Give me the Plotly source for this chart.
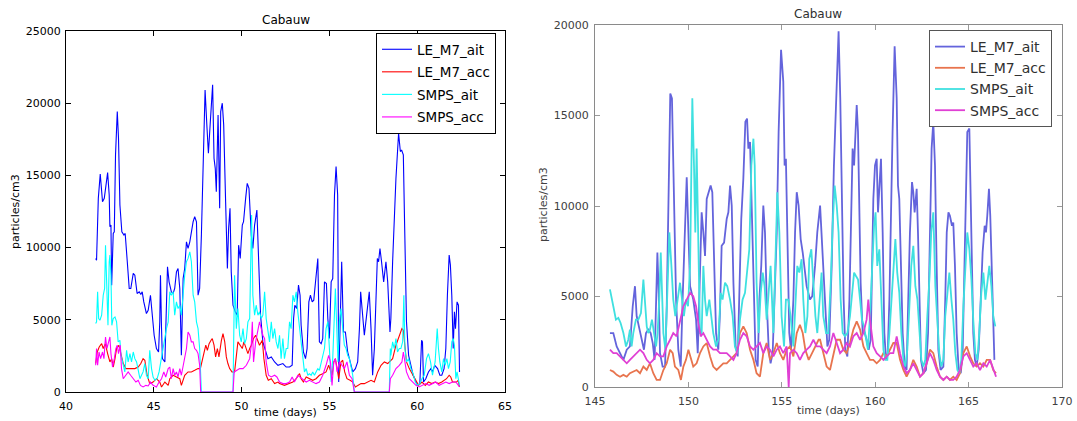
import plotly.graph_objects as go

# ---------------- data: left panel (days, particles/cm3) ----------------
L_M7_AIT = [(41.69,9250),(41.74,9130),(41.84,13410),(41.95,15100),(42.08,13180),(42.18,13410),(42.37,15190),(42.46,13640),(42.50,11440),(42.56,11560),(42.60,7400),(42.69,10980),(42.75,11100),(42.82,16420),(42.92,19420),(42.99,17570),(43.07,12950),(43.18,11100),(43.30,10870),(43.37,10980),(43.49,9020),(43.60,7170),(43.69,7170),(43.83,8210),(43.92,8090),(44.05,6820),(44.17,6940),(44.26,6750),(44.34,6940),(44.43,6240),(44.58,5430),(44.68,5660),(44.81,6700),(44.93,5320),(45.02,3930),(45.15,3010),(45.27,2770),(45.34,4860),(45.38,8090),(45.44,4390),(45.49,2310),(45.63,2080),(45.72,5550),(45.78,8670),(45.87,7630),
            (46.00,6940),(46.10,6820),(46.19,7170),(46.29,8320),(46.38,8550),(46.48,7170),(46.57,2540),(46.67,7860),(46.76,8550),(46.86,10400),(46.95,9940),(47.05,10400),(47.14,11100),(47.24,11790),(47.33,12140),(47.43,11790),(47.52,6700),(47.61,7170),(47.71,10870),(47.80,15260),(47.92,20920),(48.03,18260),(48.11,16530),(48.22,18730),(48.35,21270),(48.43,16180),(48.50,15490),(48.56,13870),(48.66,19190),(48.75,12720),(48.81,19420),(48.90,20000),(48.98,18500),(49.09,13180),(49.19,8550),(49.26,11330),(49.34,12720),(49.41,8320),(49.51,6010),(49.64,5550),(49.75,5320),(49.83,10170),(49.92,9250),(50.04,11560),(50.11,11790),(50.23,13410),(50.32,14450),(50.42,14100),(50.55,10870),(50.64,9940),(50.74,11560),(50.87,12600),(50.97,9020),(51.08,5320),(51.21,3470),(51.31,3010),(51.50,2310),(51.69,2430),(51.88,2080),(52.07,1850),
            (52.35,1970),(52.54,1730),(52.73,1730),(52.88,1850),(52.96,5090),(53.03,6010),(53.14,5780),(53.24,7400),(53.33,6700),(53.39,4620),(53.52,2770),(53.64,2310),(53.73,3010),(53.83,6240),(53.92,6700),(54.02,6240),(54.11,6360),(54.21,7630),(54.34,9250),(54.43,3470),(54.53,3350),(54.62,3700),(54.72,7630),(54.83,7510),(54.91,5090),(55.00,3700),(55.10,7630),(55.19,7860),(55.29,13640),(55.38,15610),(55.47,13640),(55.53,690),(55.63,5780),(55.70,9020),(55.80,4160),(55.91,4160),(56.04,2770),(56.18,2080),(56.33,1390),(56.48,1620),(56.61,2080),(56.71,4390),(56.78,6940),(56.86,5780),(56.99,3930),(57.12,5320),(57.27,6940),(57.37,4390),(57.46,1160),(57.56,3010),(57.65,6240),(57.73,9250),(57.80,9020),(57.88,9940),(57.97,9020),(58.09,7630),(58.22,9020),(58.32,7630),(58.45,4160),
            (58.50,5090),(58.60,9020),(58.69,12250),(58.79,14800),(58.94,17920),(59.04,16650),(59.11,16760),(59.21,16420),(59.28,11790),(59.39,4860),(59.51,2540),(59.64,1850),(59.77,1160),(59.89,810),(60.02,460),(60.15,580),(60.25,3580),(60.30,3470),(60.36,690),(60.49,920),(60.64,1390),(60.78,1620),(60.87,1390),(61.00,1850),(61.16,1620),(61.29,1160),(61.40,1160),(61.53,1620),(61.63,3010),(61.72,6700),(61.82,9480),(61.89,8790),(61.97,6700),(62.05,3010),(62.12,5550),(62.18,4390),(62.27,6240),(62.35,6010),(62.41,1390)]

L_M7_ACC = [(41.69,1970),(41.78,2770),(41.89,3120),(42.03,3350),(42.12,3010),(42.24,3350),(42.37,2660),(42.50,2080),(42.60,2310),(42.69,1730),(42.79,2310),(42.88,3010),(43.01,3240),(43.13,2660),(43.26,1970),(43.41,1620),(43.54,1620),(43.73,1620),(43.92,1620),(44.11,1730),(44.26,1970),(44.39,2310),(44.49,2200),(44.62,1160),(44.77,580),(44.96,690),(45.15,920),(45.34,690),(45.44,350),(45.63,690),(45.82,460),
            (45.91,920),(46.10,1160),(46.29,1040),(46.48,920),(46.57,460),(46.76,1160),(46.95,1390),(47.14,1390),(47.33,1500),(47.52,1620),(47.65,1620),(47.75,2200),(47.84,2540),(47.96,3240),(48.05,2890),(48.15,3350),(48.26,3580),(48.33,3700),(48.43,3240),(48.52,2430),(48.62,3010),(48.71,2430),(48.85,3580),(48.94,4050),(49.04,3470),(49.13,2430),(49.22,1970),(49.32,1620),(49.45,1390),(49.60,1390),(49.79,3470),(49.93,3240),(50.04,3010),(50.13,3470),(50.23,3120),(50.36,2660),(50.46,3010),(50.55,3240),(50.68,3700),(50.80,3930),(50.91,3580),(51.02,3240),(51.18,3580),(51.27,2310),(51.40,1160),(51.52,810),(51.69,920),(51.88,580),(52.07,690),
            (52.16,580),(52.44,460),(52.73,580),(52.92,690),(53.11,920),(53.30,1270),(53.39,920),(53.52,690),(53.68,1040),(53.86,920),(54.05,810),(54.24,920),(54.43,1160),(54.62,1270),(54.81,1390),(54.96,1850),(55.06,1390),(55.15,1160),(55.25,2080),(55.34,2310),(55.44,1620),(55.53,920),(55.66,2080),(55.76,2200),(55.87,1390),(56.00,920),(56.18,810),(56.33,690),(56.48,350),(56.61,460),(56.80,580),(56.99,580),(57.18,690),(57.37,810),(57.56,690),(57.75,1390),(57.94,1850),(58.13,2080),(58.32,1970),
            (58.41,2080),(58.60,2310),(58.79,3240),(58.98,3930),(59.13,4390),(59.21,4280),(59.28,3240),(59.39,2080),(59.55,1620),(59.70,1270),(59.89,810),(60.08,460),(60.27,690),(60.46,460),(60.64,690),(60.83,580),(61.02,690),(61.21,580),(61.40,690),(61.53,810),(61.67,920),(61.82,1160),(61.91,1040),(62.01,690),(62.12,690),(62.24,690),(62.33,810),(62.41,350)]

L_SMPS_AIT = [(41.69,4740),(41.74,4860),(41.80,6940),(41.86,5090),(41.93,4970),(42.03,5320),(42.12,6700),(42.20,7170),(42.25,10170),(42.33,7630),(42.39,4620),(42.46,9020),(42.50,9480),(42.56,8090),(42.61,4620),(42.69,5090),(42.79,5200),(42.88,4860),(42.97,3470),(43.07,3580),(43.13,2540),(43.22,2080),(43.35,1390),(43.45,2890),(43.54,2080),(43.64,2660),(43.73,2080),(43.83,2770),(43.92,2310),(44.02,2080),(44.11,1390),(44.21,920),(44.30,1160),(44.39,1390),(44.49,1970),(44.58,1160),(44.68,920),(44.77,2890),(44.87,1620),(44.96,1040),(45.06,810),(45.19,920),(45.30,1390),(45.40,2080),(45.49,2770),(45.57,3240),(45.64,3930),(45.72,4390),(45.82,4860),
              (45.91,6940),(46.00,6700),(46.10,6940),(46.19,5320),(46.29,6240),(46.38,5780),(46.48,6010),(46.57,5320),(46.67,7170),(46.76,8090),(46.86,9020),(46.95,9250),(47.05,9710),(47.14,9020),(47.24,6700),(47.33,6240),(47.43,4860),(47.52,4390),(47.61,3010),(47.71,0),(49.51,0),(49.60,8090),(49.70,4390),(49.79,5780),(49.89,3930),(49.98,3470),(50.08,4390),(50.17,3350),(50.27,3700),(50.36,4860),(50.46,5090),(50.57,12250),(50.64,6700),(50.74,5320),(50.83,6010),(50.93,5320),(51.02,5550),(51.12,5090),(51.21,5320),(51.31,6940),(51.40,5090),(51.50,4390),(51.59,3470),(51.69,4860),(51.78,3700),(51.88,4390),(51.97,3470),(52.07,3010),
              (52.16,3930),(52.25,2310),(52.35,3700),(52.44,2310),(52.54,3010),(52.63,3010),(52.73,4860),(52.82,4390),(52.92,6700),(53.01,6240),(53.11,6940),(53.20,5550),(53.30,4390),(53.39,3240),(53.49,2310),(53.58,1390),(53.68,1620),(53.77,1160),(53.86,1270),(53.96,1160),(54.05,1390),(54.15,1160),(54.24,1390),(54.34,1620),(54.43,1500),(54.53,2080),(54.62,2540),(54.72,3010),(54.81,4390),(54.91,4860),(55.00,3010),(55.10,690),(55.19,2310),(55.29,4860),(55.34,7170),(55.42,4390),(55.49,2080),(55.57,4860),(55.66,5780),(55.76,4390),(55.85,3240),(55.95,3010),(56.04,2540),(56.14,2310),(56.23,1620),(56.33,1160),(56.42,0),(58.41,0),(58.47,3010),
              (58.50,2540),(58.60,3470),(58.69,3010),(58.79,3700),(58.88,2770),(58.98,3010),(59.07,3010),(59.17,3470),(59.24,6700),(59.30,3010),(59.39,2080),(59.51,2310),(59.64,1620),(59.77,1270),(59.89,690),(60.02,460),(60.15,580),(60.27,920),(60.40,1160),(60.53,2310),(60.64,2660),(60.76,2080),(60.87,1160),(61.02,2080),(61.14,4390),(61.21,3010),(61.29,2080),(61.40,1390),(61.50,2310),(61.59,1850),(61.69,2310),(61.78,1620),(61.88,2080),(61.97,3470),(62.05,3700),(62.12,3240),(62.20,920),(62.27,1390),(62.35,690),(62.41,460)]

L_SMPS_ACC = [(41.69,1850),(41.74,3010),(41.80,1850),(41.88,2770),(41.97,2310),(42.08,2770),(42.16,2310),(42.25,3810),(42.33,3010),(42.41,3350),(42.50,3810),(42.56,2660),(42.65,1730),(42.75,2310),(42.84,3010),(42.92,3240),(42.99,2660),(43.09,3240),(43.16,1620),(43.26,920),(43.41,1160),(43.54,1390),(43.68,1160),(43.83,920),(43.98,690),(44.11,810),(44.24,460),(44.39,350),(44.55,460),(44.68,420),(44.81,690),(44.96,460),(45.15,350),(45.30,690),(45.44,920),(45.57,1390),(45.68,1040),(45.82,1620),
              (45.91,1730),(46.00,920),(46.10,1620),(46.19,1160),(46.29,1390),(46.38,1040),(46.48,1620),(46.57,1160),(46.67,1850),(46.76,2310),(46.86,3010),(46.95,4160),(47.05,3930),(47.14,3470),(47.24,3470),(47.33,3010),(47.43,2890),(47.52,2660),(47.61,1850),(47.67,0),(49.51,0),(49.58,1390),(49.70,1500),(49.89,1620),(50.08,1620),(50.27,1850),(50.46,2310),(50.55,3240),(50.61,4860),(50.68,2080),(50.80,3470),(50.93,4390),(51.02,4860),(51.12,4390),(51.21,3930),(51.31,3700),(51.40,2080),(51.53,1160),(51.69,1040),(51.88,1160),(52.01,1040),(52.16,690),
              (52.35,580),(52.54,580),(52.73,690),(52.88,1040),(53.01,690),(53.20,1160),(53.33,1040),(53.49,920),(53.68,690),(53.86,810),(54.05,690),(54.24,580),(54.43,690),(54.62,1160),(54.81,1850),(54.96,2540),(55.06,2080),(55.15,460),(55.25,2080),(55.34,2310),(55.44,1390),(55.57,2080),(55.72,1850),(55.85,1620),(56.00,2080),(56.14,1160),(56.29,920),(56.42,0),(58.41,0),(58.47,920),(58.60,1160),
              (58.79,1620),(58.98,1850),(59.13,2080),(59.21,2770),(59.28,2080),(59.39,1390),(59.55,920),(59.74,690),(59.93,460),(60.11,350),(60.30,460),(60.49,580),(60.68,460),(60.87,580),(61.06,690),(61.25,460),(61.44,580),(61.63,690),(61.82,580),(62.01,690),(62.20,690),(62.41,350)]

# ---------------- data: right panel ----------------
R_M7_AIT = [(145.80,2980),(145.98,2980),(146.16,2240),(146.34,1870),(146.52,1500),(146.70,2060),(146.87,2240),(147.02,4460),(147.14,5570),(147.23,3910),(147.37,3170),(147.50,2610),(147.62,2060),(147.73,2980),(147.85,3170),(147.98,2980),(148.09,2430),(148.19,1500),(148.27,5760),(148.34,7430),(148.41,5200),(148.48,1870),(148.62,1130),(148.75,1130),(148.84,4460),(148.94,10760),(149.03,16220),(149.12,15950),(149.23,10390),(149.34,4830),(149.46,2060),(149.59,1130),(149.69,4830),(149.80,8910),(149.91,11590),(150.00,8540),(150.09,5570),(150.26,4830),(150.41,3720),(150.50,1870),(150.59,4830),(150.71,9650),(150.80,8540),(150.89,7240),(150.98,10390),(151.07,10760),(151.19,11130),(151.28,10760),(151.37,6690),(151.48,2980),(151.60,2060),(151.69,4090),(151.78,7800),(151.91,7980),(152.05,9280),(152.14,9650),(152.23,11130),(152.32,10020),(152.41,5760),(152.53,2240),(152.64,1690),(152.73,4830),(152.83,9280),(152.94,11500),(153.05,14650),(153.14,14830),(153.21,13170),(153.30,13540),(153.37,10390),(153.48,5200),(153.60,1500),(153.71,1130),(153.80,4830),(153.90,6690),(154.01,10020),(154.10,8540),(154.19,4830),(154.30,2060),(154.40,1310),(154.51,1870),(154.62,4830),(154.73,8540),(154.83,14090),(154.96,18630),(155.08,16870),(155.15,12240),(155.22,12610),(155.31,8540),(155.40,2980),(155.49,2060),(155.62,4830),(155.71,8540),(155.80,10760),(155.90,10020),(156.01,8170),(156.12,7430),(156.19,6690),(156.33,5570),(156.51,4830),(156.63,5020),(156.78,6690),(156.90,8540),(157.05,10020),
            (157.13,8540),(157.31,4830),(157.44,2240),(157.54,2610),(157.67,6690),(157.79,12240),(157.94,16870),(158.04,19650),(158.13,15950),(158.22,10390),(158.31,4830),(158.40,2060),(158.51,1690),(158.62,4830),(158.72,10390),(158.79,13170),(158.87,12240),(158.94,14460),(159.01,15580),(159.08,14090),(159.15,10390),(159.22,5760),(159.33,2980),(159.44,2980),(159.54,2610),(159.65,2060),(159.76,2610),(159.83,5760),(159.90,10390),(159.99,12240),(160.08,12610),(160.15,9650),(160.22,10760),(160.31,12610),(160.40,8540),(160.49,2980),(160.58,1500),(160.67,1870),(160.76,4830),(160.85,10390),(160.93,14090),(161.04,18820),(161.15,15950),(161.22,11130),(161.29,10390),(161.38,6690),(161.47,2980),(161.58,1130),(161.68,940),(161.77,4830),(161.86,8540),(161.97,11320),(162.04,10760),(162.11,9650),(162.22,10950),(162.29,8540),(162.36,4830),(162.45,1500),(162.58,760),(162.72,940),(162.83,2980),(162.93,8540),(163.02,13170),(163.11,14650),(163.20,12240),(163.29,6690),(163.38,2060),(163.50,940),(163.65,1130),(163.75,4830),(163.83,8540),(163.92,9650),(164.00,9460),(164.11,8910),(164.18,9090),(164.27,6690),(164.36,2980),(164.47,940),(164.58,760),(164.68,1870),(164.75,5760),(164.83,10390),(164.93,14090),(165.04,14280),(165.11,10390),(165.18,6690),(165.25,2980),(165.34,1500),(165.43,1130),(165.54,2060),(165.65,4830),(165.75,7430),(165.86,8910),(165.93,8540),(166.00,9460),(166.09,10950),(166.16,9460),(166.24,6690),(166.31,2980),(166.38,1500)]

R_M7_ACC = [(145.80,940),(145.98,850),(146.16,670),(146.34,570),(146.52,670),(146.70,570),(146.87,760),(147.05,850),(147.23,940),(147.41,760),(147.59,1130),(147.77,940),(147.94,1310),(148.12,760),(148.30,390),(148.48,390),(148.66,940),(148.84,1310),(149.02,2060),(149.16,1870),(149.28,1130),(149.46,940),(149.60,390),(149.73,1130),(149.87,1500),(150.00,2060),(150.14,1500),(150.26,1130),(150.44,1310),(150.62,1870),(150.80,2240),(150.98,2430),(151.16,1690),(151.33,1130),(151.51,940),(151.69,1130),(151.87,1310),(152.05,1310),(152.23,1500),(152.41,1690),(152.58,1870),(152.76,2980),(152.94,3350),(153.12,2980),(153.30,2060),(153.48,1500),(153.65,760),(153.83,570),(154.01,1870),(154.19,2430),(154.37,1500),(154.55,1870),(154.73,2430),(154.90,1870),(155.08,1500),(155.26,2060),(155.44,2240),(155.62,1690),(155.80,2980),(155.97,3440),(156.12,2980),(156.26,2060),(156.44,1500),(156.62,1870),(156.80,2240),(156.97,2610),
            (157.05,2610),(157.22,1870),(157.40,1130),(157.58,940),(157.76,1870),(157.94,2610),(158.12,2610),(158.29,2060),(158.47,1870),(158.65,2430),(158.83,3170),(159.01,3630),(159.19,3170),(159.37,2240),(159.54,1870),(159.72,1500),(159.90,1500),(160.08,1310),(160.26,1500),(160.44,1870),(160.61,1690),(160.79,2060),(160.97,2430),(161.15,2430),(161.33,1500),(161.51,940),(161.68,570),(161.86,940),(162.04,1500),(162.22,1130),(162.40,570),(162.58,760),(162.76,1310),(162.93,2060),(163.11,1870),(163.29,1130),(163.47,570),(163.65,390),(163.83,570),(164.00,390),(164.18,570),(164.36,390),(164.54,760),(164.72,1870),(164.90,2240),(165.08,1690),(165.25,1310),(165.43,1130),(165.61,1310),(165.79,1130),(165.97,1500),(166.15,1500),(166.32,940),(166.47,760)]

R_SMPS_AIT = [(145.80,5390),(145.89,4830),(145.98,4460),(146.12,3720),(146.25,3820),(146.37,3540),(146.52,2980),(146.66,2240),(146.78,2610),(146.87,3170),(146.96,2240),(147.05,2980),(147.19,3720),(147.32,3720),(147.46,4090),(147.59,5940),(147.68,4830),(147.77,3350),(147.85,2980),(147.94,3170),(148.05,3720),(148.16,2980),(148.27,2240),(148.35,2980),(148.44,4830),(148.52,7430),(148.59,4830),(148.66,2980),(148.77,2060),(148.87,4830),(148.98,8540),(149.09,6690),(149.19,4830),(149.30,3910),(149.41,4830),(149.55,5760),(149.66,4830),(149.76,3910),(149.87,4830),(149.98,4460),(150.09,6690),(150.21,15950),(150.30,12240),(150.37,8540),(150.44,13170),(150.53,8540),(150.62,2980),(150.71,2980),(150.80,6690),(150.89,4830),(150.98,3910),(151.12,4830),(151.25,3720),(151.33,2980),(151.48,2240),(151.60,2610),(151.73,5200),(151.83,4830),(151.96,5760),(152.08,5570),(152.23,4830),(152.37,3910),(152.49,2240),(152.62,1870),(152.76,3720),(152.90,4830),(153.03,5200),(153.17,6690),(153.26,7610),(153.37,12240),(153.48,13720),(153.55,12240),(153.65,5760),(153.76,2980),(153.87,5200),(153.98,6320),(154.08,5570),(154.19,3720),(154.30,5200),(154.40,6690),(154.55,2980),(154.65,6320),(154.76,10760),(154.87,8540),(154.99,3910),(155.12,2240),(155.22,4830),(155.35,4830),(155.47,3910),(155.62,2240),(155.72,4830),(155.83,6690),(155.94,6320),(156.06,7060),(156.15,4830),(156.26,2980),(156.37,3910),(156.47,7060),(156.58,7610),(156.69,5760),(156.80,3910),(156.90,2980),(156.97,3910),
              (157.05,4830),(157.13,6320),(157.22,3910),(157.37,2980),(157.49,2980),(157.62,5760),(157.72,8910),(157.83,11130),(157.94,10020),(158.04,8540),(158.15,4830),(158.26,2980),(158.38,2800),(158.51,2980),(158.65,3910),(158.76,5200),(158.87,6320),(158.97,6130),(159.08,5940),(159.19,4830),(159.29,3720),(159.40,3350),(159.51,2610),(159.61,2060),(159.72,3910),(159.83,6690),(159.94,8910),(160.02,9650),(160.11,6690),(160.22,7610),(160.33,4830),(160.44,2060),(160.54,1500),(160.65,1500),(160.76,2980),(160.86,4830),(160.97,6690),(161.08,8170),(161.18,6320),(161.29,5200),(161.40,2980),(161.51,1500),(161.61,1130),(161.72,2060),(161.83,4460),(161.93,6690),(162.04,7800),(162.15,5570),(162.26,4830),(162.36,2980),(162.47,1500),(162.58,1130),(162.68,1500),(162.79,3910),(162.90,5940),(163.00,8540),(163.11,9650),(163.22,5570),(163.33,3720),(163.43,1870),(163.54,1130),(163.65,1500),(163.75,3910),(163.86,5200),(163.97,6320),(164.08,4830),(164.18,3720),(164.29,1870),(164.40,940),(164.50,760),(164.61,1500),(164.72,4460),(164.83,7060),(164.93,8540),(165.04,7610),(165.15,5940),(165.25,3720),(165.36,1870),(165.47,1500),(165.57,2980),(165.68,5200),(165.79,6320),(165.90,4830),(166.00,5760),(166.11,6690),(166.22,5570),(166.32,3910),(166.43,3350)]

R_SMPS_ACC = [(145.80,2060),(145.98,1870),(146.16,1870),(146.34,1690),(146.52,1500),(146.70,1310),(146.87,1500),(147.05,1690),(147.23,1870),(147.41,2060),(147.59,1870),(147.77,1500),(147.94,1310),(148.12,1500),(148.30,1870),(148.48,1690),(148.66,1690),(148.84,2240),(149.02,2610),(149.19,2980),(149.37,2800),(149.55,3720),(149.73,4460),(149.91,4830),(150.09,5200),(150.26,5020),(150.41,4460),(150.53,3540),(150.66,2800),(150.80,2980),(150.98,2610),(151.16,2240),(151.33,2060),(151.51,2060),(151.69,1870),(151.87,1870),(152.05,1870),(152.23,1690),(152.41,1500),(152.58,1870),(152.76,2610),(152.94,2980),(153.12,2800),(153.30,2240),(153.48,2060),(153.65,2240),(153.83,2430),(154.01,1870),(154.19,2240),(154.37,2060),(154.55,1690),(154.73,2060),(154.90,2240),(155.08,1870),(155.26,2240),(155.37,0),(155.44,1870),(155.62,2060),(155.80,1870),(155.97,1500),(156.15,1870),(156.33,2060),(156.51,2240),(156.69,2610),(156.87,2240),
              (157.05,2240),(157.22,2060),(157.40,1870),(157.58,2240),(157.76,2980),(157.94,2430),(158.12,1870),(158.29,2060),(158.47,2430),(158.65,2240),(158.83,2800),(159.01,2980),(159.19,2610),(159.37,2980),(159.54,3720),(159.63,4830),(159.72,3720),(159.90,2240),(160.08,1870),(160.26,1690),(160.44,1500),(160.61,1690),(160.79,1870),(160.97,1870),(161.15,2800),(161.33,1870),(161.51,1130),(161.68,760),(161.86,940),(162.04,1310),(162.22,940),(162.40,570),(162.58,760),(162.76,1310),(162.93,1870),(163.11,1500),(163.29,940),(163.47,570),(163.65,390),(163.83,570),(164.00,390),(164.18,390),(164.36,570),(164.54,940),(164.72,1690),(164.90,1870),(165.08,1500),(165.25,1130),(165.43,1310),(165.61,940),(165.79,1310),(165.97,1130),(166.15,1500),(166.32,940),(166.47,570)]

SERIES_NAMES = ["LE_M7_ait", "LE_M7_acc", "SMPS_ait", "SMPS_acc"]
LEFT_COLORS = ["#0000ff", "#ff0000", "#00ffff", "#ff00ff"]
RIGHT_COLORS = ["#6464dc", "#e8744e", "#3fe0e0", "#e040d4"]
LEFT_XTICKS = [40, 45, 50, 55, 60, 65]
LEFT_YTICKS = [0, 5000, 10000, 15000, 20000, 25000]
RIGHT_XTICKS = [145, 150, 155, 160, 165, 170]
RIGHT_YTICKS = [0, 5000, 10000, 15000, 20000]

W, H = 1077, 421
FONT = "DejaVu Sans"

fig = go.Figure()

for i, (name, data, col) in enumerate(zip(SERIES_NAMES, [L_M7_AIT, L_M7_ACC, L_SMPS_AIT, L_SMPS_ACC], LEFT_COLORS)):
    fig.add_trace(go.Scatter(x=[d for d, v in data], y=[v for d, v in data], mode="lines",
                             name=name, line=dict(color=col, width=1.1), legendgroup="L%d" % i,
                             xaxis="x", yaxis="y", legend="legend"))

for i, (name, data, col) in enumerate(zip(SERIES_NAMES, [R_M7_AIT, R_M7_ACC, R_SMPS_AIT, R_SMPS_ACC], RIGHT_COLORS)):
    fig.add_trace(go.Scatter(x=[d for d, v in data], y=[v for d, v in data], mode="lines",
                             name=name, line=dict(color=col, width=1.8), legendgroup="R%d" % i,
                             xaxis="x2", yaxis="y2", legend="legend2"))

def px_x(p):
    return p / W

def px_y(p):
    return 1 - p / H

axis_common = dict(showgrid=False, zeroline=False, showline=True, mirror="ticks",
                   ticks="inside", ticklen=5, tickformat="d", automargin=False)

fig.update_layout(
    width=W, height=H, margin=dict(l=0, r=0, t=0, b=0, autoexpand=False),
    paper_bgcolor="white", plot_bgcolor="white",
    xaxis=dict(domain=[px_x(66), px_x(505)], range=[40, 65], tickvals=LEFT_XTICKS, anchor="y",
               ticklabelstandoff=4,
               linecolor="black", tickcolor="black", tickfont=dict(family=FONT, size=11, color="black"), **axis_common),
    yaxis=dict(domain=[px_y(392), px_y(31)], range=[0, 25000], tickvals=LEFT_YTICKS, anchor="x",
               ticklabelstandoff=2,
               linecolor="black", tickcolor="black", tickfont=dict(family=FONT, size=11, color="black"), **axis_common),
    xaxis2=dict(domain=[px_x(595), px_x(1062)], range=[145, 170], tickvals=RIGHT_XTICKS, anchor="y2",
                ticklabelstandoff=4,
                linecolor="#8a8a8a", tickcolor="#9a9a9a", tickfont=dict(family=FONT, size=11, color="#404040"), **axis_common),
    yaxis2=dict(domain=[px_y(387), px_y(25)], range=[0, 20000], tickvals=RIGHT_YTICKS, anchor="x2",
                ticklabelstandoff=3,
                linecolor="#8a8a8a", tickcolor="#9a9a9a", tickfont=dict(family=FONT, size=11, color="#404040"), **axis_common),
    legend=dict(x=px_x(496), y=px_y(33), xanchor="right", yanchor="top", bgcolor="white",
                bordercolor="black", borderwidth=1, tracegroupgap=2, itemwidth=30,
                font=dict(family=FONT, size=13.5, color="black")),
    legend2=dict(x=px_x(1052), y=px_y(30), xanchor="right", yanchor="top", bgcolor="white",
                 bordercolor="#555555", borderwidth=1, tracegroupgap=0, itemwidth=30,
                 font=dict(family=FONT, size=14, color="#303030")),
    showlegend=True,
)

ann = [
    dict(text="Cabauw", x=px_x(285.5), y=px_y(20), font=dict(size=12, color="black")),
    dict(text="time (days)", x=px_x(285.5), y=px_y(412), font=dict(size=11, color="black")),
    dict(text="particles/cm3", x=px_x(15), y=px_y(212), textangle=-90, font=dict(size=11, color="black")),
    dict(text="Cabauw", x=px_x(818), y=px_y(14), font=dict(size=12, color="#303030")),
    dict(text="time (days)", x=px_x(828), y=px_y(410), font=dict(size=11, color="#404040")),
    dict(text="particles/cm3", x=px_x(543), y=px_y(205), textangle=-90, font=dict(size=11, color="#404040")),
]
for a in ann:
    a.update(xref="paper", yref="paper", showarrow=False, xanchor="center", yanchor="middle")
    a["font"]["family"] = FONT
fig.update_layout(annotations=ann)

fig.write_html("out.html")
